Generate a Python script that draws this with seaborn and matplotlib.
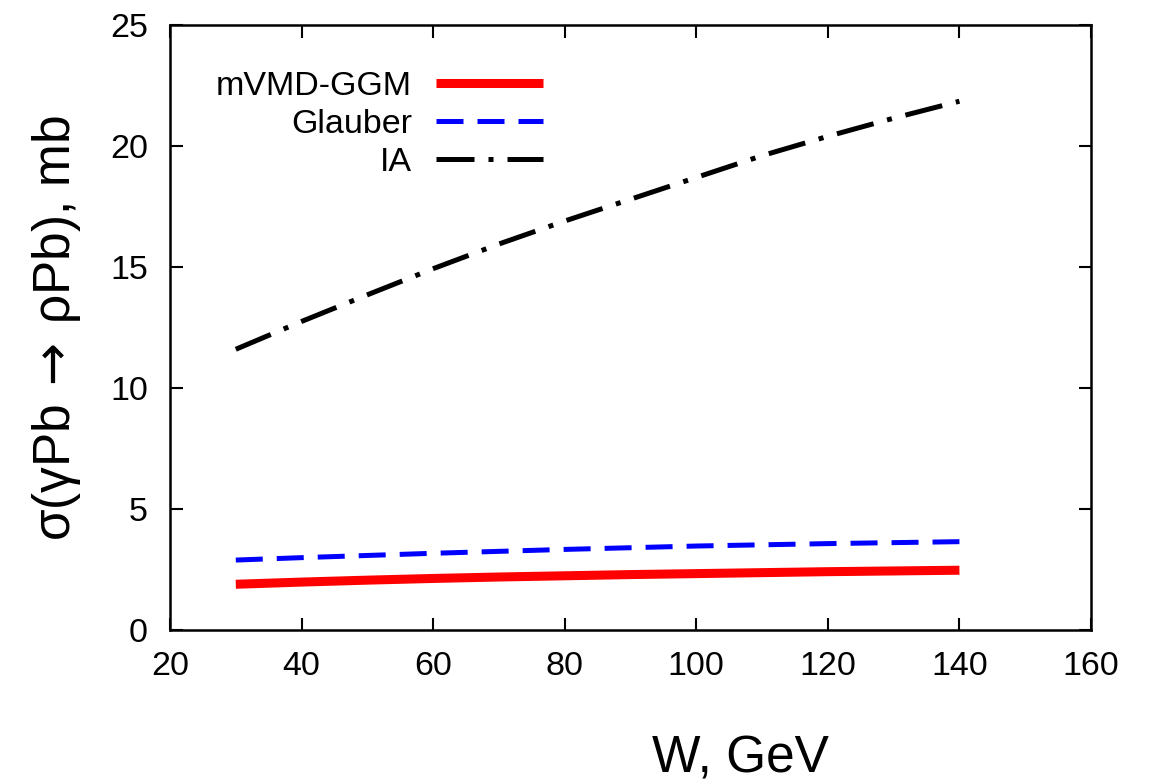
import numpy as np
import pandas as pd
import matplotlib
matplotlib.use("Agg")
import matplotlib.pyplot as plt
import seaborn as sns

W = [30, 40, 50, 60, 70, 80, 90, 100, 110, 120, 130, 140]
mvmd_ggm = [1.89, 1.98, 2.06, 2.13, 2.19, 2.24, 2.29, 2.33, 2.37, 2.41, 2.44, 2.47]
glauber = [2.89, 2.99, 3.08, 3.17, 3.25, 3.33, 3.40, 3.47, 3.52, 3.57, 3.61, 3.65]
ia = [11.6, 12.75, 13.85, 14.93, 15.95, 16.9, 17.8, 18.7, 19.6, 20.4, 21.15, 21.85]

x_ticks = [20, 40, 60, 80, 100, 120, 140, 160]
y_ticks = [0, 5, 10, 15, 20, 25]

sns.set_theme(style="white")
plt.rcParams['font.family'] = ['Liberation Sans', 'DejaVu Sans']
plt.rcParams['text.color'] = 'black'
plt.rcParams['axes.labelcolor'] = 'black'
plt.rcParams['mathtext.fontset'] = 'dejavusans'

fig = plt.figure(figsize=(11.6, 7.84), dpi=100)
ax = fig.add_axes([170/1160, 1-630/784, (1091-170)/1160, (630-25)/784])

sns.lineplot(x=W, y=mvmd_ggm, ax=ax, color='#ff0000', lw=6.5, label='mVMD-GGM',
             solid_capstyle='butt')
sns.lineplot(x=W, y=glauber, ax=ax, color='#0000ff', lw=3.6, label='Glauber')
ax.lines[-1].set_dashes([5.4, 2.8])
ax.lines[-1].set_dash_capstyle('butt')
sns.lineplot(x=W, y=ia, ax=ax, color='black', lw=3.6, label='IA')
ax.lines[-1].set_dashes([7.6, 2.8, 1.0, 2.8])
ax.lines[-1].set_dash_capstyle('butt')

ax.set_xlim(20, 160)
ax.set_ylim(0, 25)
ax.set_xticks(x_ticks)
ax.set_yticks(y_ticks)
ax.tick_params(direction='in', length=9, width=1.5, top=True, right=True,
               bottom=True, left=True, labelsize=24.5, colors='black')
ax.tick_params(axis='y', pad=16)
ax.tick_params(axis='x', pad=15)
for s in ax.spines.values():
    s.set_visible(True)
    s.set_color('black')
    s.set_linewidth(1.8)
ax.grid(False)

ax.set_xlabel('W, GeV', fontsize=37, labelpad=38, x=0.619)
ax.set_ylabel('σ(γPb$\\,\\rightarrow\\,$ρPb), mb', fontsize=37, labelpad=19)

leg = ax.legend(loc='upper right', bbox_to_anchor=(0.405, 0.924), frameon=False,
                markerfirst=False, fontsize=24.5, handlelength=3.15,
                handletextpad=0.7, labelspacing=0.2, borderpad=0, borderaxespad=0)

fig.savefig('out.png', dpi=100)
